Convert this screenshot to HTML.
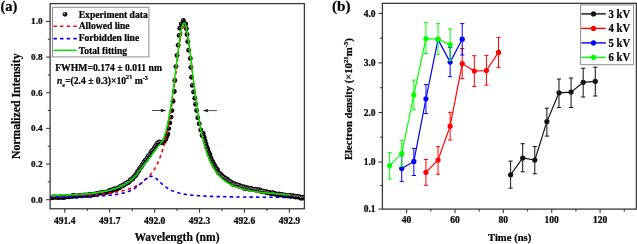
<!DOCTYPE html>
<html><head><meta charset="utf-8"><style>
html,body{margin:0;padding:0;background:#fff;}
svg{display:block;will-change:transform;}
</style></head><body>
<svg width="637" height="244" viewBox="0 0 637 244"><text x="0.4" y="11.2" font-family="'Liberation Serif', serif" font-weight="bold" stroke="#000" stroke-width="0.22" font-size="15.2" textLength="17" lengthAdjust="spacingAndGlyphs">(a)</text>
<rect x="50.1" y="3.6" width="254.29999999999998" height="205.15" fill="none" stroke="#3a3a3a" stroke-width="1.3"/>
<line x1="46.1" y1="199.70" x2="50.1" y2="199.70" stroke="#3a3a3a" stroke-width="1.1"/>
<text x="42.6" y="202.60" font-family="'Liberation Serif', serif" font-weight="bold" stroke="#000" stroke-width="0.22" font-size="9.2" text-anchor="end">0.0</text>
<line x1="47.800000000000004" y1="181.87" x2="50.1" y2="181.87" stroke="#3a3a3a" stroke-width="1.1"/>
<line x1="46.1" y1="164.04" x2="50.1" y2="164.04" stroke="#3a3a3a" stroke-width="1.1"/>
<text x="42.6" y="166.94" font-family="'Liberation Serif', serif" font-weight="bold" stroke="#000" stroke-width="0.22" font-size="9.2" text-anchor="end">0.2</text>
<line x1="47.800000000000004" y1="146.21" x2="50.1" y2="146.21" stroke="#3a3a3a" stroke-width="1.1"/>
<line x1="46.1" y1="128.38" x2="50.1" y2="128.38" stroke="#3a3a3a" stroke-width="1.1"/>
<text x="42.6" y="131.28" font-family="'Liberation Serif', serif" font-weight="bold" stroke="#000" stroke-width="0.22" font-size="9.2" text-anchor="end">0.4</text>
<line x1="47.800000000000004" y1="110.55" x2="50.1" y2="110.55" stroke="#3a3a3a" stroke-width="1.1"/>
<line x1="46.1" y1="92.72" x2="50.1" y2="92.72" stroke="#3a3a3a" stroke-width="1.1"/>
<text x="42.6" y="95.62" font-family="'Liberation Serif', serif" font-weight="bold" stroke="#000" stroke-width="0.22" font-size="9.2" text-anchor="end">0.6</text>
<line x1="47.800000000000004" y1="74.89" x2="50.1" y2="74.89" stroke="#3a3a3a" stroke-width="1.1"/>
<line x1="46.1" y1="57.06" x2="50.1" y2="57.06" stroke="#3a3a3a" stroke-width="1.1"/>
<text x="42.6" y="59.96" font-family="'Liberation Serif', serif" font-weight="bold" stroke="#000" stroke-width="0.22" font-size="9.2" text-anchor="end">0.8</text>
<line x1="47.800000000000004" y1="39.23" x2="50.1" y2="39.23" stroke="#3a3a3a" stroke-width="1.1"/>
<line x1="46.1" y1="21.40" x2="50.1" y2="21.40" stroke="#3a3a3a" stroke-width="1.1"/>
<text x="42.6" y="24.30" font-family="'Liberation Serif', serif" font-weight="bold" stroke="#000" stroke-width="0.22" font-size="9.2" text-anchor="end">1.0</text>
<line x1="64.80" y1="208.75" x2="64.80" y2="212.75" stroke="#3a3a3a" stroke-width="1.1"/>
<text x="64.80" y="223.6" font-family="'Liberation Serif', serif" font-weight="bold" stroke="#000" stroke-width="0.22" font-size="9.5" text-anchor="middle">491.4</text>
<line x1="87.25" y1="208.75" x2="87.25" y2="211.05" stroke="#3a3a3a" stroke-width="1.1"/>
<line x1="109.71" y1="208.75" x2="109.71" y2="212.75" stroke="#3a3a3a" stroke-width="1.1"/>
<text x="109.71" y="223.6" font-family="'Liberation Serif', serif" font-weight="bold" stroke="#000" stroke-width="0.22" font-size="9.5" text-anchor="middle">491.7</text>
<line x1="132.16" y1="208.75" x2="132.16" y2="211.05" stroke="#3a3a3a" stroke-width="1.1"/>
<line x1="154.62" y1="208.75" x2="154.62" y2="212.75" stroke="#3a3a3a" stroke-width="1.1"/>
<text x="154.62" y="223.6" font-family="'Liberation Serif', serif" font-weight="bold" stroke="#000" stroke-width="0.22" font-size="9.5" text-anchor="middle">492.0</text>
<line x1="177.07" y1="208.75" x2="177.07" y2="211.05" stroke="#3a3a3a" stroke-width="1.1"/>
<line x1="199.53" y1="208.75" x2="199.53" y2="212.75" stroke="#3a3a3a" stroke-width="1.1"/>
<text x="199.53" y="223.6" font-family="'Liberation Serif', serif" font-weight="bold" stroke="#000" stroke-width="0.22" font-size="9.5" text-anchor="middle">492.3</text>
<line x1="221.99" y1="208.75" x2="221.99" y2="211.05" stroke="#3a3a3a" stroke-width="1.1"/>
<line x1="244.44" y1="208.75" x2="244.44" y2="212.75" stroke="#3a3a3a" stroke-width="1.1"/>
<text x="244.44" y="223.6" font-family="'Liberation Serif', serif" font-weight="bold" stroke="#000" stroke-width="0.22" font-size="9.5" text-anchor="middle">492.6</text>
<line x1="266.90" y1="208.75" x2="266.90" y2="211.05" stroke="#3a3a3a" stroke-width="1.1"/>
<line x1="289.35" y1="208.75" x2="289.35" y2="212.75" stroke="#3a3a3a" stroke-width="1.1"/>
<text x="289.35" y="223.6" font-family="'Liberation Serif', serif" font-weight="bold" stroke="#000" stroke-width="0.22" font-size="9.5" text-anchor="middle">492.9</text>
<text x="134.4" y="241" font-family="'Liberation Serif', serif" font-weight="bold" stroke="#000" stroke-width="0.22" font-size="11.6" textLength="85.1" lengthAdjust="spacingAndGlyphs">Wavelength (nm)</text>
<text transform="translate(19.9,159) rotate(-90)" x="0" y="0" font-family="'Liberation Serif', serif" font-weight="bold" stroke="#000" stroke-width="0.22" font-size="11.7" textLength="105.6" lengthAdjust="spacingAndGlyphs">Normalized Intensity</text>
<clipPath id="ca"><rect x="50.800000000000004" y="4.3" width="252.89999999999998" height="203.75"/></clipPath>
<g clip-path="url(#ca)">
<g>
<circle cx="47.30" cy="197.75" r="2.45" fill="#050505"/>
<circle cx="48.25" cy="197.42" r="2.45" fill="#050505"/>
<circle cx="49.20" cy="197.69" r="2.45" fill="#050505"/>
<circle cx="50.15" cy="197.70" r="2.45" fill="#050505"/>
<circle cx="51.10" cy="197.92" r="2.45" fill="#050505"/>
<circle cx="52.05" cy="197.60" r="2.45" fill="#050505"/>
<circle cx="53.00" cy="197.05" r="2.45" fill="#050505"/>
<circle cx="53.95" cy="197.28" r="2.45" fill="#050505"/>
<circle cx="54.90" cy="197.00" r="2.45" fill="#050505"/>
<circle cx="55.85" cy="197.27" r="2.45" fill="#050505"/>
<circle cx="56.80" cy="197.17" r="2.45" fill="#050505"/>
<circle cx="57.75" cy="197.20" r="2.45" fill="#050505"/>
<circle cx="58.70" cy="197.87" r="2.45" fill="#050505"/>
<circle cx="59.65" cy="196.83" r="2.45" fill="#050505"/>
<circle cx="60.60" cy="196.91" r="2.45" fill="#050505"/>
<circle cx="61.55" cy="196.86" r="2.45" fill="#050505"/>
<circle cx="62.50" cy="197.66" r="2.45" fill="#050505"/>
<circle cx="63.45" cy="197.62" r="2.45" fill="#050505"/>
<circle cx="64.40" cy="197.22" r="2.45" fill="#050505"/>
<circle cx="65.35" cy="196.99" r="2.45" fill="#050505"/>
<circle cx="66.30" cy="196.62" r="2.45" fill="#050505"/>
<circle cx="67.25" cy="196.69" r="2.45" fill="#050505"/>
<circle cx="68.20" cy="196.39" r="2.45" fill="#050505"/>
<circle cx="69.15" cy="196.78" r="2.45" fill="#050505"/>
<circle cx="70.10" cy="196.34" r="2.45" fill="#050505"/>
<circle cx="71.05" cy="196.23" r="2.45" fill="#050505"/>
<circle cx="72.00" cy="196.57" r="2.45" fill="#050505"/>
<circle cx="72.95" cy="195.57" r="2.45" fill="#050505"/>
<circle cx="73.90" cy="195.95" r="2.45" fill="#050505"/>
<circle cx="74.85" cy="195.63" r="2.45" fill="#050505"/>
<circle cx="75.80" cy="196.27" r="2.45" fill="#050505"/>
<circle cx="76.75" cy="196.25" r="2.45" fill="#050505"/>
<circle cx="77.70" cy="196.02" r="2.45" fill="#050505"/>
<circle cx="78.65" cy="195.86" r="2.45" fill="#050505"/>
<circle cx="79.60" cy="195.49" r="2.45" fill="#050505"/>
<circle cx="80.55" cy="195.57" r="2.45" fill="#050505"/>
<circle cx="81.50" cy="195.77" r="2.45" fill="#050505"/>
<circle cx="82.45" cy="195.89" r="2.45" fill="#050505"/>
<circle cx="83.40" cy="195.64" r="2.45" fill="#050505"/>
<circle cx="84.35" cy="194.87" r="2.45" fill="#050505"/>
<circle cx="85.30" cy="195.58" r="2.45" fill="#050505"/>
<circle cx="86.25" cy="195.08" r="2.45" fill="#050505"/>
<circle cx="87.20" cy="194.91" r="2.45" fill="#050505"/>
<circle cx="88.15" cy="195.57" r="2.45" fill="#050505"/>
<circle cx="89.10" cy="194.87" r="2.45" fill="#050505"/>
<circle cx="90.05" cy="194.27" r="2.45" fill="#050505"/>
<circle cx="91.00" cy="195.46" r="2.45" fill="#050505"/>
<circle cx="91.95" cy="194.69" r="2.45" fill="#050505"/>
<circle cx="92.90" cy="194.49" r="2.45" fill="#050505"/>
<circle cx="93.85" cy="194.65" r="2.45" fill="#050505"/>
<circle cx="94.80" cy="194.01" r="2.45" fill="#050505"/>
<circle cx="95.75" cy="194.09" r="2.45" fill="#050505"/>
<circle cx="96.70" cy="194.51" r="2.45" fill="#050505"/>
<circle cx="97.65" cy="193.46" r="2.45" fill="#050505"/>
<circle cx="98.60" cy="193.36" r="2.45" fill="#050505"/>
<circle cx="99.55" cy="193.09" r="2.45" fill="#050505"/>
<circle cx="100.50" cy="192.72" r="2.45" fill="#050505"/>
<circle cx="101.45" cy="192.95" r="2.45" fill="#050505"/>
<circle cx="102.40" cy="192.84" r="2.45" fill="#050505"/>
<circle cx="103.35" cy="193.18" r="2.45" fill="#050505"/>
<circle cx="104.30" cy="192.19" r="2.45" fill="#050505"/>
<circle cx="105.25" cy="192.43" r="2.45" fill="#050505"/>
<circle cx="106.20" cy="192.11" r="2.45" fill="#050505"/>
<circle cx="107.15" cy="192.17" r="2.45" fill="#050505"/>
<circle cx="108.10" cy="191.77" r="2.45" fill="#050505"/>
<circle cx="109.05" cy="191.32" r="2.45" fill="#050505"/>
<circle cx="110.00" cy="190.32" r="2.45" fill="#050505"/>
<circle cx="110.95" cy="191.32" r="2.45" fill="#050505"/>
<circle cx="111.90" cy="190.78" r="2.45" fill="#050505"/>
<circle cx="112.85" cy="189.79" r="2.45" fill="#050505"/>
<circle cx="113.80" cy="188.98" r="2.45" fill="#050505"/>
<circle cx="114.75" cy="188.97" r="2.45" fill="#050505"/>
<circle cx="115.70" cy="189.59" r="2.45" fill="#050505"/>
<circle cx="116.65" cy="189.46" r="2.45" fill="#050505"/>
<circle cx="117.60" cy="187.95" r="2.45" fill="#050505"/>
<circle cx="118.55" cy="187.99" r="2.45" fill="#050505"/>
<circle cx="119.50" cy="187.73" r="2.45" fill="#050505"/>
<circle cx="120.45" cy="186.48" r="2.45" fill="#050505"/>
<circle cx="121.40" cy="185.97" r="2.45" fill="#050505"/>
<circle cx="122.35" cy="185.86" r="2.45" fill="#050505"/>
<circle cx="123.30" cy="185.31" r="2.45" fill="#050505"/>
<circle cx="124.25" cy="184.70" r="2.45" fill="#050505"/>
<circle cx="125.20" cy="183.67" r="2.45" fill="#050505"/>
<circle cx="126.15" cy="183.44" r="2.45" fill="#050505"/>
<circle cx="127.10" cy="182.84" r="2.45" fill="#050505"/>
<circle cx="128.05" cy="182.15" r="2.45" fill="#050505"/>
<circle cx="129.00" cy="182.25" r="2.45" fill="#050505"/>
<circle cx="129.95" cy="180.35" r="2.45" fill="#050505"/>
<circle cx="130.90" cy="179.63" r="2.45" fill="#050505"/>
<circle cx="131.85" cy="178.88" r="2.45" fill="#050505"/>
<circle cx="132.80" cy="178.90" r="2.45" fill="#050505"/>
<circle cx="133.75" cy="177.35" r="2.45" fill="#050505"/>
<circle cx="134.70" cy="175.70" r="2.45" fill="#050505"/>
<circle cx="135.65" cy="175.58" r="2.45" fill="#050505"/>
<circle cx="136.60" cy="173.64" r="2.45" fill="#050505"/>
<circle cx="137.55" cy="171.78" r="2.45" fill="#050505"/>
<circle cx="138.50" cy="171.27" r="2.45" fill="#050505"/>
<circle cx="139.45" cy="168.71" r="2.45" fill="#050505"/>
<circle cx="140.40" cy="167.77" r="2.45" fill="#050505"/>
<circle cx="141.35" cy="166.66" r="2.45" fill="#050505"/>
<circle cx="142.30" cy="165.06" r="2.45" fill="#050505"/>
<circle cx="143.25" cy="163.51" r="2.45" fill="#050505"/>
<circle cx="144.20" cy="162.31" r="2.45" fill="#050505"/>
<circle cx="145.15" cy="160.54" r="2.45" fill="#050505"/>
<circle cx="146.10" cy="159.89" r="2.45" fill="#050505"/>
<circle cx="147.05" cy="158.42" r="2.45" fill="#050505"/>
<circle cx="148.00" cy="156.50" r="2.45" fill="#050505"/>
<circle cx="148.95" cy="155.61" r="2.45" fill="#050505"/>
<circle cx="149.90" cy="154.71" r="2.45" fill="#050505"/>
<circle cx="150.85" cy="152.68" r="2.45" fill="#050505"/>
<circle cx="151.80" cy="151.11" r="2.45" fill="#050505"/>
<circle cx="152.75" cy="150.43" r="2.45" fill="#050505"/>
<circle cx="153.70" cy="149.34" r="2.45" fill="#050505"/>
<circle cx="154.65" cy="147.50" r="2.45" fill="#050505"/>
<circle cx="155.60" cy="146.17" r="2.45" fill="#050505"/>
<circle cx="156.55" cy="144.86" r="2.45" fill="#050505"/>
<circle cx="157.50" cy="143.02" r="2.45" fill="#050505"/>
<circle cx="158.45" cy="143.18" r="2.45" fill="#050505"/>
<circle cx="159.40" cy="142.04" r="2.45" fill="#050505"/>
<circle cx="160.35" cy="142.45" r="2.45" fill="#050505"/>
<circle cx="161.30" cy="142.61" r="2.45" fill="#050505"/>
<circle cx="162.25" cy="142.69" r="2.45" fill="#050505"/>
<circle cx="163.20" cy="142.34" r="2.45" fill="#050505"/>
<circle cx="164.15" cy="141.53" r="2.45" fill="#050505"/>
<circle cx="165.10" cy="140.31" r="2.45" fill="#050505"/>
<circle cx="166.05" cy="138.46" r="2.45" fill="#050505"/>
<circle cx="167.00" cy="135.84" r="2.45" fill="#050505"/>
<circle cx="203.20" cy="133.52" r="2.45" fill="#050505"/>
<circle cx="204.15" cy="137.29" r="2.45" fill="#050505"/>
<circle cx="205.10" cy="140.75" r="2.45" fill="#050505"/>
<circle cx="206.05" cy="144.00" r="2.45" fill="#050505"/>
<circle cx="207.00" cy="147.27" r="2.45" fill="#050505"/>
<circle cx="207.95" cy="149.96" r="2.45" fill="#050505"/>
<circle cx="208.90" cy="152.72" r="2.45" fill="#050505"/>
<circle cx="209.85" cy="154.61" r="2.45" fill="#050505"/>
<circle cx="210.80" cy="157.64" r="2.45" fill="#050505"/>
<circle cx="211.75" cy="160.14" r="2.45" fill="#050505"/>
<circle cx="212.70" cy="162.18" r="2.45" fill="#050505"/>
<circle cx="213.65" cy="163.98" r="2.45" fill="#050505"/>
<circle cx="214.60" cy="165.42" r="2.45" fill="#050505"/>
<circle cx="215.55" cy="167.59" r="2.45" fill="#050505"/>
<circle cx="216.50" cy="168.85" r="2.45" fill="#050505"/>
<circle cx="217.45" cy="169.70" r="2.45" fill="#050505"/>
<circle cx="218.40" cy="172.72" r="2.45" fill="#050505"/>
<circle cx="219.35" cy="173.34" r="2.45" fill="#050505"/>
<circle cx="220.30" cy="173.89" r="2.45" fill="#050505"/>
<circle cx="221.25" cy="174.84" r="2.45" fill="#050505"/>
<circle cx="222.20" cy="175.86" r="2.45" fill="#050505"/>
<circle cx="223.15" cy="177.01" r="2.45" fill="#050505"/>
<circle cx="224.10" cy="177.41" r="2.45" fill="#050505"/>
<circle cx="225.05" cy="178.33" r="2.45" fill="#050505"/>
<circle cx="226.00" cy="179.37" r="2.45" fill="#050505"/>
<circle cx="226.95" cy="178.89" r="2.45" fill="#050505"/>
<circle cx="227.90" cy="180.34" r="2.45" fill="#050505"/>
<circle cx="228.85" cy="181.30" r="2.45" fill="#050505"/>
<circle cx="229.80" cy="181.69" r="2.45" fill="#050505"/>
<circle cx="230.75" cy="182.29" r="2.45" fill="#050505"/>
<circle cx="231.70" cy="182.74" r="2.45" fill="#050505"/>
<circle cx="232.65" cy="184.27" r="2.45" fill="#050505"/>
<circle cx="233.60" cy="183.85" r="2.45" fill="#050505"/>
<circle cx="234.55" cy="183.70" r="2.45" fill="#050505"/>
<circle cx="235.50" cy="184.96" r="2.45" fill="#050505"/>
<circle cx="236.45" cy="184.92" r="2.45" fill="#050505"/>
<circle cx="237.40" cy="184.88" r="2.45" fill="#050505"/>
<circle cx="238.35" cy="185.27" r="2.45" fill="#050505"/>
<circle cx="239.30" cy="185.35" r="2.45" fill="#050505"/>
<circle cx="240.25" cy="186.92" r="2.45" fill="#050505"/>
<circle cx="241.20" cy="186.69" r="2.45" fill="#050505"/>
<circle cx="242.15" cy="186.97" r="2.45" fill="#050505"/>
<circle cx="243.10" cy="186.86" r="2.45" fill="#050505"/>
<circle cx="244.05" cy="186.94" r="2.45" fill="#050505"/>
<circle cx="245.00" cy="188.68" r="2.45" fill="#050505"/>
<circle cx="245.95" cy="187.44" r="2.45" fill="#050505"/>
<circle cx="246.90" cy="188.67" r="2.45" fill="#050505"/>
<circle cx="247.85" cy="188.06" r="2.45" fill="#050505"/>
<circle cx="248.80" cy="189.13" r="2.45" fill="#050505"/>
<circle cx="249.75" cy="188.68" r="2.45" fill="#050505"/>
<circle cx="250.70" cy="188.49" r="2.45" fill="#050505"/>
<circle cx="251.65" cy="189.21" r="2.45" fill="#050505"/>
<circle cx="252.60" cy="189.28" r="2.45" fill="#050505"/>
<circle cx="253.55" cy="189.23" r="2.45" fill="#050505"/>
<circle cx="254.50" cy="189.69" r="2.45" fill="#050505"/>
<circle cx="255.45" cy="189.97" r="2.45" fill="#050505"/>
<circle cx="256.40" cy="189.52" r="2.45" fill="#050505"/>
<circle cx="257.35" cy="189.90" r="2.45" fill="#050505"/>
<circle cx="258.30" cy="190.61" r="2.45" fill="#050505"/>
<circle cx="259.25" cy="189.60" r="2.45" fill="#050505"/>
<circle cx="260.20" cy="191.31" r="2.45" fill="#050505"/>
<circle cx="261.15" cy="190.68" r="2.45" fill="#050505"/>
<circle cx="262.10" cy="191.32" r="2.45" fill="#050505"/>
<circle cx="263.05" cy="191.33" r="2.45" fill="#050505"/>
<circle cx="264.00" cy="191.28" r="2.45" fill="#050505"/>
<circle cx="264.95" cy="191.64" r="2.45" fill="#050505"/>
<circle cx="265.90" cy="191.65" r="2.45" fill="#050505"/>
<circle cx="266.85" cy="192.68" r="2.45" fill="#050505"/>
<circle cx="267.80" cy="192.87" r="2.45" fill="#050505"/>
<circle cx="268.75" cy="192.24" r="2.45" fill="#050505"/>
<circle cx="269.70" cy="193.06" r="2.45" fill="#050505"/>
<circle cx="270.65" cy="193.30" r="2.45" fill="#050505"/>
<circle cx="271.60" cy="193.68" r="2.45" fill="#050505"/>
<circle cx="272.55" cy="192.82" r="2.45" fill="#050505"/>
<circle cx="273.50" cy="193.24" r="2.45" fill="#050505"/>
<circle cx="274.45" cy="193.16" r="2.45" fill="#050505"/>
<circle cx="275.40" cy="194.31" r="2.45" fill="#050505"/>
<circle cx="276.35" cy="194.14" r="2.45" fill="#050505"/>
<circle cx="277.30" cy="194.77" r="2.45" fill="#050505"/>
<circle cx="278.25" cy="194.20" r="2.45" fill="#050505"/>
<circle cx="279.20" cy="194.05" r="2.45" fill="#050505"/>
<circle cx="280.15" cy="195.17" r="2.45" fill="#050505"/>
<circle cx="281.10" cy="194.35" r="2.45" fill="#050505"/>
<circle cx="282.05" cy="194.71" r="2.45" fill="#050505"/>
<circle cx="283.00" cy="195.29" r="2.45" fill="#050505"/>
<circle cx="283.95" cy="196.12" r="2.45" fill="#050505"/>
<circle cx="284.90" cy="194.92" r="2.45" fill="#050505"/>
<circle cx="285.85" cy="195.62" r="2.45" fill="#050505"/>
<circle cx="286.80" cy="195.94" r="2.45" fill="#050505"/>
<circle cx="287.75" cy="195.66" r="2.45" fill="#050505"/>
<circle cx="288.70" cy="195.77" r="2.45" fill="#050505"/>
<circle cx="289.65" cy="195.45" r="2.45" fill="#050505"/>
<circle cx="290.60" cy="196.56" r="2.45" fill="#050505"/>
<circle cx="291.55" cy="195.83" r="2.45" fill="#050505"/>
<circle cx="292.50" cy="195.82" r="2.45" fill="#050505"/>
<circle cx="293.45" cy="195.96" r="2.45" fill="#050505"/>
<circle cx="294.40" cy="196.73" r="2.45" fill="#050505"/>
<circle cx="295.35" cy="197.07" r="2.45" fill="#050505"/>
<circle cx="296.30" cy="196.50" r="2.45" fill="#050505"/>
<circle cx="297.25" cy="196.96" r="2.45" fill="#050505"/>
<circle cx="298.20" cy="197.05" r="2.45" fill="#050505"/>
<circle cx="299.15" cy="196.62" r="2.45" fill="#050505"/>
<circle cx="300.10" cy="197.34" r="2.45" fill="#050505"/>
<circle cx="301.05" cy="198.19" r="2.45" fill="#050505"/>
<circle cx="302.00" cy="197.49" r="2.45" fill="#050505"/>
<circle cx="302.95" cy="198.11" r="2.45" fill="#050505"/>
<circle cx="303.90" cy="197.11" r="2.45" fill="#050505"/>
<circle cx="304.85" cy="197.35" r="2.45" fill="#050505"/>
<circle cx="305.80" cy="197.76" r="2.45" fill="#050505"/>
<circle cx="306.75" cy="197.57" r="2.45" fill="#050505"/>
<circle cx="183.40" cy="20.50" r="2.45" fill="#050505"/>
<circle cx="181.20" cy="23.90" r="2.45" fill="#050505"/>
<circle cx="179.90" cy="28.20" r="2.45" fill="#050505"/>
<circle cx="179.20" cy="35.40" r="2.45" fill="#050505"/>
<circle cx="178.20" cy="45.30" r="2.45" fill="#050505"/>
<circle cx="177.00" cy="55.50" r="2.45" fill="#050505"/>
<circle cx="175.90" cy="66.60" r="2.45" fill="#050505"/>
<circle cx="174.80" cy="80.50" r="2.45" fill="#050505"/>
<circle cx="174.30" cy="91.50" r="2.45" fill="#050505"/>
<circle cx="173.10" cy="101.20" r="2.45" fill="#050505"/>
<circle cx="171.90" cy="110.60" r="2.45" fill="#050505"/>
<circle cx="171.10" cy="117.10" r="2.45" fill="#050505"/>
<circle cx="169.80" cy="122.90" r="2.45" fill="#050505"/>
<circle cx="168.70" cy="128.60" r="2.45" fill="#050505"/>
<circle cx="167.80" cy="134.00" r="2.45" fill="#050505"/>
<circle cx="185.70" cy="24.00" r="2.45" fill="#050505"/>
<circle cx="186.40" cy="28.80" r="2.45" fill="#050505"/>
<circle cx="187.00" cy="34.50" r="2.45" fill="#050505"/>
<circle cx="187.70" cy="41.60" r="2.45" fill="#050505"/>
<circle cx="188.70" cy="50.20" r="2.45" fill="#050505"/>
<circle cx="190.30" cy="58.40" r="2.45" fill="#050505"/>
<circle cx="190.90" cy="67.40" r="2.45" fill="#050505"/>
<circle cx="191.60" cy="77.20" r="2.45" fill="#050505"/>
<circle cx="192.30" cy="85.40" r="2.45" fill="#050505"/>
<circle cx="193.60" cy="92.00" r="2.45" fill="#050505"/>
<circle cx="194.80" cy="98.20" r="2.45" fill="#050505"/>
<circle cx="195.60" cy="104.30" r="2.45" fill="#050505"/>
<circle cx="196.60" cy="110.50" r="2.45" fill="#050505"/>
<circle cx="197.80" cy="117.70" r="2.45" fill="#050505"/>
<circle cx="199.20" cy="123.80" r="2.45" fill="#050505"/>
<circle cx="200.70" cy="130.00" r="2.45" fill="#050505"/>
<circle cx="202.10" cy="135.60" r="2.45" fill="#050505"/>
</g><g fill="#9a9a9a">
<circle cx="46.70" cy="196.95" r="0.6"/>
<circle cx="47.65" cy="196.62" r="0.6"/>
<circle cx="48.60" cy="196.89" r="0.6"/>
<circle cx="49.55" cy="196.90" r="0.6"/>
<circle cx="50.50" cy="197.12" r="0.6"/>
<circle cx="51.45" cy="196.80" r="0.6"/>
<circle cx="52.40" cy="196.25" r="0.6"/>
<circle cx="53.35" cy="196.48" r="0.6"/>
<circle cx="54.30" cy="196.20" r="0.6"/>
<circle cx="55.25" cy="196.47" r="0.6"/>
<circle cx="56.20" cy="196.37" r="0.6"/>
<circle cx="57.15" cy="196.40" r="0.6"/>
<circle cx="58.10" cy="197.07" r="0.6"/>
<circle cx="59.05" cy="196.03" r="0.6"/>
<circle cx="60.00" cy="196.11" r="0.6"/>
<circle cx="60.95" cy="196.06" r="0.6"/>
<circle cx="61.90" cy="196.86" r="0.6"/>
<circle cx="62.85" cy="196.82" r="0.6"/>
<circle cx="63.80" cy="196.42" r="0.6"/>
<circle cx="64.75" cy="196.19" r="0.6"/>
<circle cx="65.70" cy="195.82" r="0.6"/>
<circle cx="66.65" cy="195.89" r="0.6"/>
<circle cx="67.60" cy="195.59" r="0.6"/>
<circle cx="68.55" cy="195.98" r="0.6"/>
<circle cx="69.50" cy="195.54" r="0.6"/>
<circle cx="70.45" cy="195.43" r="0.6"/>
<circle cx="71.40" cy="195.77" r="0.6"/>
<circle cx="72.35" cy="194.77" r="0.6"/>
<circle cx="73.30" cy="195.15" r="0.6"/>
<circle cx="74.25" cy="194.83" r="0.6"/>
<circle cx="75.20" cy="195.47" r="0.6"/>
<circle cx="76.15" cy="195.45" r="0.6"/>
<circle cx="77.10" cy="195.22" r="0.6"/>
<circle cx="78.05" cy="195.06" r="0.6"/>
<circle cx="79.00" cy="194.69" r="0.6"/>
<circle cx="79.95" cy="194.77" r="0.6"/>
<circle cx="80.90" cy="194.97" r="0.6"/>
<circle cx="81.85" cy="195.09" r="0.6"/>
<circle cx="82.80" cy="194.84" r="0.6"/>
<circle cx="83.75" cy="194.07" r="0.6"/>
<circle cx="84.70" cy="194.78" r="0.6"/>
<circle cx="85.65" cy="194.28" r="0.6"/>
<circle cx="86.60" cy="194.11" r="0.6"/>
<circle cx="87.55" cy="194.77" r="0.6"/>
<circle cx="88.50" cy="194.07" r="0.6"/>
<circle cx="89.45" cy="193.47" r="0.6"/>
<circle cx="90.40" cy="194.66" r="0.6"/>
<circle cx="91.35" cy="193.89" r="0.6"/>
<circle cx="92.30" cy="193.69" r="0.6"/>
<circle cx="93.25" cy="193.85" r="0.6"/>
<circle cx="94.20" cy="193.21" r="0.6"/>
<circle cx="95.15" cy="193.29" r="0.6"/>
<circle cx="96.10" cy="193.71" r="0.6"/>
<circle cx="97.05" cy="192.66" r="0.6"/>
<circle cx="98.00" cy="192.56" r="0.6"/>
<circle cx="98.95" cy="192.29" r="0.6"/>
<circle cx="99.90" cy="191.92" r="0.6"/>
<circle cx="100.85" cy="192.15" r="0.6"/>
<circle cx="101.80" cy="192.04" r="0.6"/>
<circle cx="102.75" cy="192.38" r="0.6"/>
<circle cx="103.70" cy="191.39" r="0.6"/>
<circle cx="104.65" cy="191.63" r="0.6"/>
<circle cx="105.60" cy="191.31" r="0.6"/>
<circle cx="106.55" cy="191.37" r="0.6"/>
<circle cx="107.50" cy="190.97" r="0.6"/>
<circle cx="108.45" cy="190.52" r="0.6"/>
<circle cx="109.40" cy="189.52" r="0.6"/>
<circle cx="110.35" cy="190.52" r="0.6"/>
<circle cx="111.30" cy="189.98" r="0.6"/>
<circle cx="112.25" cy="188.99" r="0.6"/>
<circle cx="113.20" cy="188.18" r="0.6"/>
<circle cx="114.15" cy="188.17" r="0.6"/>
<circle cx="115.10" cy="188.79" r="0.6"/>
<circle cx="116.05" cy="188.66" r="0.6"/>
<circle cx="117.00" cy="187.15" r="0.6"/>
<circle cx="117.95" cy="187.19" r="0.6"/>
<circle cx="118.90" cy="186.93" r="0.6"/>
<circle cx="119.85" cy="185.68" r="0.6"/>
<circle cx="120.80" cy="185.17" r="0.6"/>
<circle cx="121.75" cy="185.06" r="0.6"/>
<circle cx="122.70" cy="184.51" r="0.6"/>
<circle cx="123.65" cy="183.90" r="0.6"/>
<circle cx="124.60" cy="182.87" r="0.6"/>
<circle cx="125.55" cy="182.64" r="0.6"/>
<circle cx="126.50" cy="182.04" r="0.6"/>
<circle cx="127.45" cy="181.35" r="0.6"/>
<circle cx="128.40" cy="181.45" r="0.6"/>
<circle cx="129.35" cy="179.55" r="0.6"/>
<circle cx="130.30" cy="178.83" r="0.6"/>
<circle cx="131.25" cy="178.08" r="0.6"/>
<circle cx="132.20" cy="178.10" r="0.6"/>
<circle cx="133.15" cy="176.55" r="0.6"/>
<circle cx="134.10" cy="174.90" r="0.6"/>
<circle cx="135.05" cy="174.78" r="0.6"/>
<circle cx="136.00" cy="172.84" r="0.6"/>
<circle cx="136.95" cy="170.98" r="0.6"/>
<circle cx="137.90" cy="170.47" r="0.6"/>
<circle cx="138.85" cy="167.91" r="0.6"/>
<circle cx="139.80" cy="166.97" r="0.6"/>
<circle cx="140.75" cy="165.86" r="0.6"/>
<circle cx="141.70" cy="164.26" r="0.6"/>
<circle cx="142.65" cy="162.71" r="0.6"/>
<circle cx="143.60" cy="161.51" r="0.6"/>
<circle cx="144.55" cy="159.74" r="0.6"/>
<circle cx="145.50" cy="159.09" r="0.6"/>
<circle cx="146.45" cy="157.62" r="0.6"/>
<circle cx="147.40" cy="155.70" r="0.6"/>
<circle cx="148.35" cy="154.81" r="0.6"/>
<circle cx="149.30" cy="153.91" r="0.6"/>
<circle cx="150.25" cy="151.88" r="0.6"/>
<circle cx="151.20" cy="150.31" r="0.6"/>
<circle cx="152.15" cy="149.63" r="0.6"/>
<circle cx="153.10" cy="148.54" r="0.6"/>
<circle cx="154.05" cy="146.70" r="0.6"/>
<circle cx="155.00" cy="145.37" r="0.6"/>
<circle cx="155.95" cy="144.06" r="0.6"/>
<circle cx="156.90" cy="142.22" r="0.6"/>
<circle cx="157.85" cy="142.38" r="0.6"/>
<circle cx="158.80" cy="141.24" r="0.6"/>
<circle cx="159.75" cy="141.65" r="0.6"/>
<circle cx="160.70" cy="141.81" r="0.6"/>
<circle cx="161.65" cy="141.89" r="0.6"/>
<circle cx="162.60" cy="141.54" r="0.6"/>
<circle cx="163.55" cy="140.73" r="0.6"/>
<circle cx="164.50" cy="139.51" r="0.6"/>
<circle cx="165.45" cy="137.66" r="0.6"/>
<circle cx="166.40" cy="135.04" r="0.6"/>
<circle cx="202.60" cy="132.72" r="0.6"/>
<circle cx="203.55" cy="136.49" r="0.6"/>
<circle cx="204.50" cy="139.95" r="0.6"/>
<circle cx="205.45" cy="143.20" r="0.6"/>
<circle cx="206.40" cy="146.47" r="0.6"/>
<circle cx="207.35" cy="149.16" r="0.6"/>
<circle cx="208.30" cy="151.92" r="0.6"/>
<circle cx="209.25" cy="153.81" r="0.6"/>
<circle cx="210.20" cy="156.84" r="0.6"/>
<circle cx="211.15" cy="159.34" r="0.6"/>
<circle cx="212.10" cy="161.38" r="0.6"/>
<circle cx="213.05" cy="163.18" r="0.6"/>
<circle cx="214.00" cy="164.62" r="0.6"/>
<circle cx="214.95" cy="166.79" r="0.6"/>
<circle cx="215.90" cy="168.05" r="0.6"/>
<circle cx="216.85" cy="168.90" r="0.6"/>
<circle cx="217.80" cy="171.92" r="0.6"/>
<circle cx="218.75" cy="172.54" r="0.6"/>
<circle cx="219.70" cy="173.09" r="0.6"/>
<circle cx="220.65" cy="174.04" r="0.6"/>
<circle cx="221.60" cy="175.06" r="0.6"/>
<circle cx="222.55" cy="176.21" r="0.6"/>
<circle cx="223.50" cy="176.61" r="0.6"/>
<circle cx="224.45" cy="177.53" r="0.6"/>
<circle cx="225.40" cy="178.57" r="0.6"/>
<circle cx="226.35" cy="178.09" r="0.6"/>
<circle cx="227.30" cy="179.54" r="0.6"/>
<circle cx="228.25" cy="180.50" r="0.6"/>
<circle cx="229.20" cy="180.89" r="0.6"/>
<circle cx="230.15" cy="181.49" r="0.6"/>
<circle cx="231.10" cy="181.94" r="0.6"/>
<circle cx="232.05" cy="183.47" r="0.6"/>
<circle cx="233.00" cy="183.05" r="0.6"/>
<circle cx="233.95" cy="182.90" r="0.6"/>
<circle cx="234.90" cy="184.16" r="0.6"/>
<circle cx="235.85" cy="184.12" r="0.6"/>
<circle cx="236.80" cy="184.08" r="0.6"/>
<circle cx="237.75" cy="184.47" r="0.6"/>
<circle cx="238.70" cy="184.55" r="0.6"/>
<circle cx="239.65" cy="186.12" r="0.6"/>
<circle cx="240.60" cy="185.89" r="0.6"/>
<circle cx="241.55" cy="186.17" r="0.6"/>
<circle cx="242.50" cy="186.06" r="0.6"/>
<circle cx="243.45" cy="186.14" r="0.6"/>
<circle cx="244.40" cy="187.88" r="0.6"/>
<circle cx="245.35" cy="186.64" r="0.6"/>
<circle cx="246.30" cy="187.87" r="0.6"/>
<circle cx="247.25" cy="187.26" r="0.6"/>
<circle cx="248.20" cy="188.33" r="0.6"/>
<circle cx="249.15" cy="187.88" r="0.6"/>
<circle cx="250.10" cy="187.69" r="0.6"/>
<circle cx="251.05" cy="188.41" r="0.6"/>
<circle cx="252.00" cy="188.48" r="0.6"/>
<circle cx="252.95" cy="188.43" r="0.6"/>
<circle cx="253.90" cy="188.89" r="0.6"/>
<circle cx="254.85" cy="189.17" r="0.6"/>
<circle cx="255.80" cy="188.72" r="0.6"/>
<circle cx="256.75" cy="189.10" r="0.6"/>
<circle cx="257.70" cy="189.81" r="0.6"/>
<circle cx="258.65" cy="188.80" r="0.6"/>
<circle cx="259.60" cy="190.51" r="0.6"/>
<circle cx="260.55" cy="189.88" r="0.6"/>
<circle cx="261.50" cy="190.52" r="0.6"/>
<circle cx="262.45" cy="190.53" r="0.6"/>
<circle cx="263.40" cy="190.48" r="0.6"/>
<circle cx="264.35" cy="190.84" r="0.6"/>
<circle cx="265.30" cy="190.85" r="0.6"/>
<circle cx="266.25" cy="191.88" r="0.6"/>
<circle cx="267.20" cy="192.07" r="0.6"/>
<circle cx="268.15" cy="191.44" r="0.6"/>
<circle cx="269.10" cy="192.26" r="0.6"/>
<circle cx="270.05" cy="192.50" r="0.6"/>
<circle cx="271.00" cy="192.88" r="0.6"/>
<circle cx="271.95" cy="192.02" r="0.6"/>
<circle cx="272.90" cy="192.44" r="0.6"/>
<circle cx="273.85" cy="192.36" r="0.6"/>
<circle cx="274.80" cy="193.51" r="0.6"/>
<circle cx="275.75" cy="193.34" r="0.6"/>
<circle cx="276.70" cy="193.97" r="0.6"/>
<circle cx="277.65" cy="193.40" r="0.6"/>
<circle cx="278.60" cy="193.25" r="0.6"/>
<circle cx="279.55" cy="194.37" r="0.6"/>
<circle cx="280.50" cy="193.55" r="0.6"/>
<circle cx="281.45" cy="193.91" r="0.6"/>
<circle cx="282.40" cy="194.49" r="0.6"/>
<circle cx="283.35" cy="195.32" r="0.6"/>
<circle cx="284.30" cy="194.12" r="0.6"/>
<circle cx="285.25" cy="194.82" r="0.6"/>
<circle cx="286.20" cy="195.14" r="0.6"/>
<circle cx="287.15" cy="194.86" r="0.6"/>
<circle cx="288.10" cy="194.97" r="0.6"/>
<circle cx="289.05" cy="194.65" r="0.6"/>
<circle cx="290.00" cy="195.76" r="0.6"/>
<circle cx="290.95" cy="195.03" r="0.6"/>
<circle cx="291.90" cy="195.02" r="0.6"/>
<circle cx="292.85" cy="195.16" r="0.6"/>
<circle cx="293.80" cy="195.93" r="0.6"/>
<circle cx="294.75" cy="196.27" r="0.6"/>
<circle cx="295.70" cy="195.70" r="0.6"/>
<circle cx="296.65" cy="196.16" r="0.6"/>
<circle cx="297.60" cy="196.25" r="0.6"/>
<circle cx="298.55" cy="195.82" r="0.6"/>
<circle cx="299.50" cy="196.54" r="0.6"/>
<circle cx="300.45" cy="197.39" r="0.6"/>
<circle cx="301.40" cy="196.69" r="0.6"/>
<circle cx="302.35" cy="197.31" r="0.6"/>
<circle cx="303.30" cy="196.31" r="0.6"/>
<circle cx="304.25" cy="196.55" r="0.6"/>
<circle cx="305.20" cy="196.96" r="0.6"/>
<circle cx="306.15" cy="196.77" r="0.6"/>
<circle cx="182.80" cy="19.70" r="0.6"/>
<circle cx="180.60" cy="23.10" r="0.6"/>
<circle cx="179.30" cy="27.40" r="0.6"/>
<circle cx="178.60" cy="34.60" r="0.6"/>
<circle cx="177.60" cy="44.50" r="0.6"/>
<circle cx="176.40" cy="54.70" r="0.6"/>
<circle cx="175.30" cy="65.80" r="0.6"/>
<circle cx="174.20" cy="79.70" r="0.6"/>
<circle cx="173.70" cy="90.70" r="0.6"/>
<circle cx="172.50" cy="100.40" r="0.6"/>
<circle cx="171.30" cy="109.80" r="0.6"/>
<circle cx="170.50" cy="116.30" r="0.6"/>
<circle cx="169.20" cy="122.10" r="0.6"/>
<circle cx="168.10" cy="127.80" r="0.6"/>
<circle cx="167.20" cy="133.20" r="0.6"/>
<circle cx="185.10" cy="23.20" r="0.6"/>
<circle cx="185.80" cy="28.00" r="0.6"/>
<circle cx="186.40" cy="33.70" r="0.6"/>
<circle cx="187.10" cy="40.80" r="0.6"/>
<circle cx="188.10" cy="49.40" r="0.6"/>
<circle cx="189.70" cy="57.60" r="0.6"/>
<circle cx="190.30" cy="66.60" r="0.6"/>
<circle cx="191.00" cy="76.40" r="0.6"/>
<circle cx="191.70" cy="84.60" r="0.6"/>
<circle cx="193.00" cy="91.20" r="0.6"/>
<circle cx="194.20" cy="97.40" r="0.6"/>
<circle cx="195.00" cy="103.50" r="0.6"/>
<circle cx="196.00" cy="109.70" r="0.6"/>
<circle cx="197.20" cy="116.90" r="0.6"/>
<circle cx="198.60" cy="123.00" r="0.6"/>
<circle cx="200.10" cy="129.20" r="0.6"/>
<circle cx="201.50" cy="134.80" r="0.6"/>
</g>
<path d="M49.10,196.93 L49.60,196.91 L50.10,196.90 L50.60,196.89 L51.10,196.88 L51.60,196.86 L52.10,196.85 L52.60,196.84 L53.10,196.82 L53.60,196.81 L54.10,196.79 L54.60,196.78 L55.10,196.77 L55.60,196.75 L56.10,196.74 L56.60,196.72 L57.10,196.71 L57.60,196.69 L58.10,196.68 L58.60,196.66 L59.10,196.65 L59.60,196.63 L60.10,196.61 L60.60,196.60 L61.10,196.58 L61.60,196.57 L62.10,196.55 L62.60,196.53 L63.10,196.51 L63.60,196.50 L64.10,196.48 L64.60,196.46 L65.10,196.44 L65.60,196.43 L66.10,196.41 L66.60,196.39 L67.10,196.37 L67.60,196.35 L68.10,196.33 L68.60,196.31 L69.10,196.29 L69.60,196.27 L70.10,196.25 L70.60,196.23 L71.10,196.21 L71.60,196.19 L72.10,196.17 L72.60,196.14 L73.10,196.12 L73.60,196.10 L74.10,196.08 L74.60,196.05 L75.10,196.03 L75.60,196.01 L76.10,195.98 L76.60,195.96 L77.10,195.93 L77.60,195.91 L78.10,195.88 L78.60,195.86 L79.10,195.83 L79.60,195.81 L80.10,195.78 L80.60,195.75 L81.10,195.72 L81.60,195.70 L82.10,195.67 L82.60,195.64 L83.10,195.61 L83.60,195.58 L84.10,195.55 L84.60,195.52 L85.10,195.49 L85.60,195.46 L86.10,195.43 L86.60,195.39 L87.10,195.36 L87.60,195.33 L88.10,195.29 L88.60,195.26 L89.10,195.22 L89.60,195.19 L90.10,195.15 L90.60,195.12 L91.10,195.08 L91.60,195.04 L92.10,195.00 L92.60,194.96 L93.10,194.93 L93.60,194.88 L94.10,194.84 L94.60,194.80 L95.10,194.76 L95.60,194.72 L96.10,194.67 L96.60,194.63 L97.10,194.58 L97.60,194.54 L98.10,194.49 L98.60,194.44 L99.10,194.40 L99.60,194.35 L100.10,194.30 L100.60,194.25 L101.10,194.20 L101.60,194.14 L102.10,194.09 L102.60,194.04 L103.10,193.98 L103.60,193.92 L104.10,193.87 L104.60,193.81 L105.10,193.75 L105.60,193.69 L106.10,193.63 L106.60,193.56 L107.10,193.50 L107.60,193.43 L108.10,193.37 L108.60,193.30 L109.10,193.23 L109.60,193.16 L110.10,193.09 L110.60,193.02 L111.10,192.94 L111.60,192.86 L112.10,192.79 L112.60,192.71 L113.10,192.63 L113.60,192.54 L114.10,192.46 L114.60,192.37 L115.10,192.29 L115.60,192.20 L116.10,192.11 L116.60,192.01 L117.10,191.92 L117.60,191.82 L118.10,191.72 L118.60,191.62 L119.10,191.52 L119.60,191.41 L120.10,191.30 L120.60,191.19 L121.10,191.08 L121.60,190.96 L122.10,190.84 L122.60,190.72 L123.10,190.60 L123.60,190.47 L124.10,190.34 L124.60,190.21 L125.10,190.07 L125.60,189.93 L126.10,189.79 L126.60,189.64 L127.10,189.49 L127.60,189.34 L128.10,189.18 L128.60,189.02 L129.10,188.85 L129.60,188.68 L130.10,188.51 L130.60,188.33 L131.10,188.15 L131.60,187.96 L132.10,187.77 L132.60,187.57 L133.10,187.36 L133.60,187.15 L134.10,186.94 L134.60,186.72 L135.10,186.49 L135.60,186.26 L136.10,186.02 L136.60,185.77 L137.10,185.52 L137.60,185.26 L138.10,184.99 L138.60,184.71 L139.10,184.42 L139.60,184.13 L140.10,183.83 L140.60,183.51 L141.10,183.19 L141.60,182.86 L142.10,182.52 L142.60,182.17 L143.10,181.80 L143.60,181.42 L144.10,181.04 L144.60,180.63 L145.10,180.22 L145.60,179.79 L146.10,179.35 L146.60,178.89 L147.10,178.42 L147.60,177.93 L148.10,177.42 L148.60,176.89 L149.10,176.35 L149.60,175.78 L150.10,175.20 L150.60,174.59 L151.10,173.96 L151.60,173.31 L152.10,172.63 L152.60,171.93 L153.10,171.20 L153.60,170.44 L154.10,169.66 L154.60,168.84 L155.10,167.98 L155.60,167.10 L156.10,166.18 L156.60,165.22 L157.10,164.22 L157.60,163.18 L158.10,162.09 L158.60,160.96 L159.10,159.78 L159.60,158.56 L160.10,157.27 L160.60,155.94 L161.10,154.54 L161.60,153.09 L162.10,151.56 L162.60,149.98 L163.10,148.32 L163.60,146.58 L164.10,144.77 L164.60,142.88 L165.10,140.91 L165.60,138.84 L166.10,136.69 L166.60,134.44 L167.10,132.09 L167.60,129.64 L168.10,127.08 L168.60,124.41 L169.10,121.63 L169.60,118.74 L170.10,115.73 L170.60,112.60 L171.10,109.36 L171.60,105.99 L172.10,102.51 L172.60,98.92 L173.10,95.22 L173.60,91.42 L174.10,87.53 L174.60,83.56 L175.10,79.51 L175.60,75.42 L176.10,71.29 L176.60,67.15 L177.10,63.03 L177.60,58.95 L178.10,54.95 L178.60,51.06 L179.10,47.33 L179.60,43.78 L180.10,40.46 L180.60,37.41 L181.10,34.67 L181.60,32.28 L182.10,30.27 L182.60,28.67 L183.10,27.51 L183.60,26.81 L184.10,26.57 L184.60,26.81 L185.10,27.51 L185.60,28.67 L186.10,30.22 L186.60,32.03 L187.10,34.24 L187.60,36.79 L188.10,39.67 L188.60,42.83 L189.10,46.23 L189.60,49.82 L190.10,53.58 L190.60,57.46 L191.10,61.42 L191.60,65.44 L192.10,69.48 L192.60,73.52 L193.10,77.54 L193.60,81.51 L194.10,85.45 L194.60,89.42 L195.10,93.28 L195.60,97.05 L196.10,100.70 L196.60,104.24 L197.10,107.66 L197.60,110.96 L198.10,114.14 L198.60,117.20 L199.10,120.14 L199.60,122.95 L200.10,125.66 L200.60,128.25 L201.10,130.74 L201.60,133.12 L202.10,135.41 L202.60,137.60 L203.10,139.70 L203.60,141.71 L204.10,143.63 L204.60,145.47 L205.10,147.24 L205.60,148.93 L206.10,150.55 L206.60,152.10 L207.10,153.58 L207.60,155.00 L208.10,156.37 L208.60,157.67 L209.10,158.93 L209.60,160.13 L210.10,161.28 L210.60,162.38 L211.10,163.44 L211.60,164.45 L212.10,165.43 L212.60,166.36 L213.10,167.25 L213.60,168.11 L214.10,168.94 L214.60,169.73 L215.10,170.49 L215.60,171.22 L216.10,171.92 L216.60,172.59 L217.10,173.24 L217.60,173.87 L218.10,174.47 L218.60,175.05 L219.10,175.61 L219.60,176.15 L220.10,176.67 L220.60,177.17 L221.10,177.65 L221.60,178.12 L222.10,178.57 L222.60,179.01 L223.10,179.43 L223.60,179.83 L224.10,180.22 L224.60,180.60 L225.10,180.97 L225.60,181.33 L226.10,181.67 L226.60,182.00 L227.10,182.32 L227.60,182.63 L228.10,182.94 L228.60,183.23 L229.10,183.51 L229.60,183.79 L230.10,184.06 L230.60,184.31 L231.10,184.57 L231.60,184.81 L232.10,185.05 L232.60,185.28 L233.10,185.50 L233.60,185.72 L234.10,185.93 L234.60,186.14 L235.10,186.34 L235.60,186.54 L236.10,186.73 L236.60,186.92 L237.10,187.10 L237.60,187.28 L238.10,187.45 L238.60,187.62 L239.10,187.79 L239.60,187.95 L240.10,188.11 L240.60,188.27 L241.10,188.42 L241.60,188.56 L242.10,188.71 L242.60,188.85 L243.10,188.99 L243.60,189.12 L244.10,189.25 L244.60,189.38 L245.10,189.50 L245.60,189.63 L246.10,189.75 L246.60,189.86 L247.10,189.98 L247.60,190.09 L248.10,190.20 L248.60,190.30 L249.10,190.41 L249.60,190.51 L250.10,190.61 L250.60,190.71 L251.10,190.80 L251.60,190.90 L252.10,190.99 L252.60,191.08 L253.10,191.16 L253.60,191.25 L254.10,191.33 L254.60,191.42 L255.10,191.50 L255.60,191.58 L256.10,191.65 L256.60,191.73 L257.10,191.80 L257.60,191.88 L258.10,191.95 L258.60,192.02 L259.10,192.09 L259.60,192.15 L260.10,192.22 L260.60,192.28 L261.10,192.35 L261.60,192.41 L262.10,192.47 L262.60,192.53 L263.10,192.59 L263.60,192.65 L264.10,192.71 L264.60,192.76 L265.10,192.82 L265.60,192.87 L266.10,192.92 L266.60,192.97 L267.10,193.03 L267.60,193.08 L268.10,193.13 L268.60,193.17 L269.10,193.22 L269.60,193.27 L270.10,193.31 L270.60,193.36 L271.10,193.40 L271.60,193.45 L272.10,193.49 L272.60,193.53 L273.10,193.57 L273.60,193.61 L274.10,193.66 L274.60,193.69 L275.10,193.73 L275.60,193.77 L276.10,193.81 L276.60,193.85 L277.10,193.88 L277.60,193.92 L278.10,193.95 L278.60,193.99 L279.10,194.02 L279.60,194.06 L280.10,194.09 L280.60,194.12 L281.10,194.16 L281.60,194.19 L282.10,194.22 L282.60,194.25 L283.10,194.28 L283.60,194.31 L284.10,194.34 L284.60,194.37 L285.10,194.40 L285.60,194.42 L286.10,194.45 L286.60,194.48 L287.10,194.51 L287.60,194.53 L288.10,194.56 L288.60,194.59 L289.10,194.61 L289.60,194.64 L290.10,194.66" fill="none" stroke="#ff0000" stroke-width="1.6" stroke-dasharray="3.4 3.2"/>
<path d="M49.10,197.14 L49.60,197.14 L50.10,197.13 L50.60,197.13 L51.10,197.12 L51.60,197.12 L52.10,197.12 L52.60,197.11 L53.10,197.11 L53.60,197.10 L54.10,197.10 L54.60,197.09 L55.10,197.09 L55.60,197.08 L56.10,197.08 L56.60,197.07 L57.10,197.07 L57.60,197.06 L58.10,197.06 L58.60,197.05 L59.10,197.05 L59.60,197.04 L60.10,197.04 L60.60,197.03 L61.10,197.02 L61.60,197.02 L62.10,197.01 L62.60,197.01 L63.10,197.00 L63.60,196.99 L64.10,196.99 L64.60,196.98 L65.10,196.98 L65.60,196.97 L66.10,196.96 L66.60,196.95 L67.10,196.95 L67.60,196.94 L68.10,196.93 L68.60,196.93 L69.10,196.92 L69.60,196.91 L70.10,196.90 L70.60,196.90 L71.10,196.89 L71.60,196.88 L72.10,196.87 L72.60,196.86 L73.10,196.85 L73.60,196.84 L74.10,196.84 L74.60,196.83 L75.10,196.82 L75.60,196.81 L76.10,196.80 L76.60,196.79 L77.10,196.78 L77.60,196.77 L78.10,196.76 L78.60,196.75 L79.10,196.74 L79.60,196.72 L80.10,196.71 L80.60,196.70 L81.10,196.69 L81.60,196.68 L82.10,196.67 L82.60,196.65 L83.10,196.64 L83.60,196.63 L84.10,196.61 L84.60,196.60 L85.10,196.59 L85.60,196.57 L86.10,196.56 L86.60,196.54 L87.10,196.53 L87.60,196.51 L88.10,196.50 L88.60,196.48 L89.10,196.46 L89.60,196.45 L90.10,196.43 L90.60,196.41 L91.10,196.39 L91.60,196.37 L92.10,196.36 L92.60,196.34 L93.10,196.32 L93.60,196.30 L94.10,196.28 L94.60,196.25 L95.10,196.23 L95.60,196.21 L96.10,196.19 L96.60,196.16 L97.10,196.14 L97.60,196.11 L98.10,196.09 L98.60,196.06 L99.10,196.04 L99.60,196.01 L100.10,195.98 L100.60,195.95 L101.10,195.92 L101.60,195.89 L102.10,195.86 L102.60,195.83 L103.10,195.79 L103.60,195.76 L104.10,195.72 L104.60,195.69 L105.10,195.65 L105.60,195.61 L106.10,195.57 L106.60,195.53 L107.10,195.49 L107.60,195.45 L108.10,195.40 L108.60,195.36 L109.10,195.31 L109.60,195.26 L110.10,195.21 L110.60,195.16 L111.10,195.11 L111.60,195.05 L112.10,195.00 L112.60,194.94 L113.10,194.88 L113.60,194.81 L114.10,194.75 L114.60,194.68 L115.10,194.61 L115.60,194.54 L116.10,194.47 L116.60,194.39 L117.10,194.31 L117.60,194.23 L118.10,194.14 L118.60,194.06 L119.10,193.96 L119.60,193.87 L120.10,193.77 L120.60,193.67 L121.10,193.56 L121.60,193.45 L122.10,193.34 L122.60,193.22 L123.10,193.10 L123.60,192.97 L124.10,192.84 L124.60,192.70 L125.10,192.56 L125.60,192.41 L126.10,192.25 L126.60,192.09 L127.10,191.92 L127.60,191.75 L128.10,191.56 L128.60,191.37 L129.10,191.18 L129.60,190.97 L130.10,190.75 L130.60,190.53 L131.10,190.30 L131.60,190.06 L132.10,189.80 L132.60,189.54 L133.10,189.27 L133.60,188.98 L134.10,188.69 L134.60,188.38 L135.10,188.06 L135.60,187.73 L136.10,187.38 L136.60,187.02 L137.10,186.65 L137.60,186.27 L138.10,185.88 L138.60,185.47 L139.10,185.05 L139.60,184.62 L140.10,184.18 L140.60,183.73 L141.10,183.27 L141.60,182.81 L142.10,182.34 L142.60,181.86 L143.10,181.39 L143.60,180.92 L144.10,180.45 L144.60,179.98 L145.10,179.53 L145.60,179.10 L146.10,178.68 L146.60,178.28 L147.10,177.91 L147.60,177.57 L148.10,177.27 L148.60,177.00 L149.10,176.78 L149.60,176.60 L150.10,176.46 L150.60,176.38 L151.10,176.34 L151.60,176.36 L152.10,176.42 L152.60,176.54 L153.10,176.70 L153.60,176.91 L154.10,177.16 L154.60,177.45 L155.10,177.77 L155.60,178.13 L156.10,178.52 L156.60,178.93 L157.10,179.36 L157.60,179.80 L158.10,180.26 L158.60,180.73 L159.10,181.20 L159.60,181.67 L160.10,182.15 L160.60,182.62 L161.10,183.09 L161.60,183.55 L162.10,184.00 L162.60,184.45 L163.10,184.88 L163.60,185.31 L164.10,185.72 L164.60,186.12 L165.10,186.50 L165.60,186.88 L166.10,187.24 L166.60,187.59 L167.10,187.93 L167.60,188.25 L168.10,188.56 L168.60,188.86 L169.10,189.15 L169.60,189.43 L170.10,189.70 L170.60,189.96 L171.10,190.20 L171.60,190.44 L172.10,190.67 L172.60,190.88 L173.10,191.09 L173.60,191.30 L174.10,191.49 L174.60,191.67 L175.10,191.85 L175.60,192.02 L176.10,192.19 L176.60,192.35 L177.10,192.50 L177.60,192.64 L178.10,192.78 L178.60,192.92 L179.10,193.05 L179.60,193.17 L180.10,193.29 L180.60,193.41 L181.10,193.52 L181.60,193.63 L182.10,193.73 L182.60,193.83 L183.10,193.93 L183.60,194.02 L184.10,194.11 L184.60,194.20 L185.10,194.28 L185.60,194.36 L186.10,194.44 L186.60,194.51 L187.10,194.58 L187.60,194.65 L188.10,194.72 L188.60,194.79 L189.10,194.85 L189.60,194.91 L190.10,194.97 L190.60,195.03 L191.10,195.09 L191.60,195.14 L192.10,195.19 L192.60,195.24 L193.10,195.29 L193.60,195.34 L194.10,195.38 L194.60,195.43 L195.10,195.47 L195.60,195.52 L196.10,195.56 L196.60,195.60 L197.10,195.64 L197.60,195.67 L198.10,195.71 L198.60,195.74 L199.10,195.78 L199.60,195.81 L200.10,195.85 L200.60,195.88 L201.10,195.91 L201.60,195.94 L202.10,195.97 L202.60,196.00 L203.10,196.02 L203.60,196.05 L204.10,196.08 L204.60,196.10 L205.10,196.13 L205.60,196.15 L206.10,196.18 L206.60,196.20 L207.10,196.22 L207.60,196.24 L208.10,196.27 L208.60,196.29 L209.10,196.31 L209.60,196.33 L210.10,196.35 L210.60,196.37 L211.10,196.39 L211.60,196.40 L212.10,196.42 L212.60,196.44 L213.10,196.46 L213.60,196.47 L214.10,196.49 L214.60,196.51 L215.10,196.52 L215.60,196.54 L216.10,196.55 L216.60,196.57 L217.10,196.58 L217.60,196.59 L218.10,196.61 L218.60,196.62 L219.10,196.64 L219.60,196.65 L220.10,196.66 L220.60,196.67 L221.10,196.69 L221.60,196.70 L222.10,196.71 L222.60,196.72 L223.10,196.73 L223.60,196.74 L224.10,196.75 L224.60,196.76 L225.10,196.77 L225.60,196.78 L226.10,196.79 L226.60,196.80 L227.10,196.81 L227.60,196.82 L228.10,196.83 L228.60,196.84 L229.10,196.85 L229.60,196.86 L230.10,196.87 L230.60,196.88 L231.10,196.88 L231.60,196.89 L232.10,196.90 L232.60,196.91 L233.10,196.92 L233.60,196.92 L234.10,196.93 L234.60,196.94 L235.10,196.95 L235.60,196.95 L236.10,196.96 L236.60,196.97 L237.10,196.97 L237.60,196.98 L238.10,196.99 L238.60,196.99 L239.10,197.00 L239.60,197.00 L240.10,197.01 L240.60,197.02 L241.10,197.02 L241.60,197.03 L242.10,197.03 L242.60,197.04 L243.10,197.05 L243.60,197.05 L244.10,197.06 L244.60,197.06 L245.10,197.07 L245.60,197.07 L246.10,197.08 L246.60,197.08 L247.10,197.09 L247.60,197.09 L248.10,197.10 L248.60,197.10 L249.10,197.10 L249.60,197.11 L250.10,197.11 L250.60,197.12 L251.10,197.12 L251.60,197.13 L252.10,197.13 L252.60,197.14 L253.10,197.14 L253.60,197.14 L254.10,197.15 L254.60,197.15 L255.10,197.16 L255.60,197.16 L256.10,197.16 L256.60,197.17 L257.10,197.17 L257.60,197.17 L258.10,197.18 L258.60,197.18 L259.10,197.18 L259.60,197.19 L260.10,197.19 L260.60,197.19 L261.10,197.20 L261.60,197.20 L262.10,197.20 L262.60,197.21 L263.10,197.21 L263.60,197.21 L264.10,197.22 L264.60,197.22 L265.10,197.22 L265.60,197.22 L266.10,197.23 L266.60,197.23 L267.10,197.23 L267.60,197.24 L268.10,197.24 L268.60,197.24 L269.10,197.24 L269.60,197.25 L270.10,197.25 L270.60,197.25 L271.10,197.25 L271.60,197.26 L272.10,197.26 L272.60,197.26 L273.10,197.26 L273.60,197.27 L274.10,197.27 L274.60,197.27 L275.10,197.27 L275.60,197.28 L276.10,197.28 L276.60,197.28 L277.10,197.28 L277.60,197.28 L278.10,197.29 L278.60,197.29 L279.10,197.29 L279.60,197.29 L280.10,197.30 L280.60,197.30 L281.10,197.30 L281.60,197.30 L282.10,197.30 L282.60,197.31 L283.10,197.31 L283.60,197.31 L284.10,197.31 L284.60,197.31 L285.10,197.31 L285.60,197.32 L286.10,197.32 L286.60,197.32 L287.10,197.32 L287.60,197.32 L288.10,197.33 L288.60,197.33 L289.10,197.33 L289.60,197.33 L290.10,197.33" fill="none" stroke="#0000ff" stroke-width="1.6" stroke-dasharray="3.4 3.2"/>
<path d="M49.10,195.46 L49.60,195.45 L50.10,195.44 L50.60,195.43 L51.10,195.41 L51.60,195.40 L52.10,195.39 L52.60,195.37 L53.10,195.36 L53.60,195.35 L54.10,195.33 L54.60,195.32 L55.10,195.30 L55.60,195.29 L56.10,195.28 L56.60,195.26 L57.10,195.25 L57.60,195.23 L58.10,195.22 L58.60,195.20 L59.10,195.18 L59.60,195.17 L60.10,195.15 L60.60,195.14 L61.10,195.12 L61.60,195.10 L62.10,195.08 L62.60,195.07 L63.10,195.05 L63.60,195.03 L64.10,195.01 L64.60,194.99 L65.10,194.97 L65.60,194.95 L66.10,194.93 L66.60,194.91 L67.10,194.88 L67.60,194.86 L68.10,194.84 L68.60,194.82 L69.10,194.79 L69.60,194.77 L70.10,194.74 L70.60,194.72 L71.10,194.69 L71.60,194.67 L72.10,194.64 L72.60,194.62 L73.10,194.59 L73.60,194.56 L74.10,194.53 L74.60,194.51 L75.10,194.48 L75.60,194.45 L76.10,194.42 L76.60,194.39 L77.10,194.36 L77.60,194.33 L78.10,194.30 L78.60,194.27 L79.10,194.24 L79.60,194.21 L80.10,194.17 L80.60,194.14 L81.10,194.11 L81.60,194.07 L82.10,194.04 L82.60,194.00 L83.10,193.96 L83.60,193.93 L84.10,193.89 L84.60,193.85 L85.10,193.81 L85.60,193.77 L86.10,193.72 L86.60,193.68 L87.10,193.64 L87.60,193.59 L88.10,193.55 L88.60,193.50 L89.10,193.45 L89.60,193.41 L90.10,193.36 L90.60,193.31 L91.10,193.26 L91.60,193.20 L92.10,193.15 L92.60,193.10 L93.10,193.04 L93.60,192.99 L94.10,192.93 L94.60,192.87 L95.10,192.81 L95.60,192.75 L96.10,192.69 L96.60,192.63 L97.10,192.56 L97.60,192.49 L98.10,192.42 L98.60,192.35 L99.10,192.27 L99.60,192.19 L100.10,192.11 L100.60,192.03 L101.10,191.95 L101.60,191.87 L102.10,191.78 L102.60,191.69 L103.10,191.60 L103.60,191.51 L104.10,191.41 L104.60,191.31 L105.10,191.22 L105.60,191.11 L106.10,191.01 L106.60,190.91 L107.10,190.80 L107.60,190.69 L108.10,190.58 L108.60,190.47 L109.10,190.35 L109.60,190.24 L110.10,190.12 L110.60,190.00 L111.10,189.87 L111.60,189.74 L112.10,189.61 L112.60,189.47 L113.10,189.33 L113.60,189.18 L114.10,189.03 L114.60,188.88 L115.10,188.72 L115.60,188.56 L116.10,188.39 L116.60,188.22 L117.10,188.04 L117.60,187.86 L118.10,187.68 L118.60,187.49 L119.10,187.30 L119.60,187.10 L120.10,186.90 L120.60,186.69 L121.10,186.47 L121.60,186.24 L122.10,186.01 L122.60,185.77 L123.10,185.52 L123.60,185.26 L124.10,184.99 L124.60,184.72 L125.10,184.44 L125.60,184.15 L126.10,183.85 L126.60,183.54 L127.10,183.22 L127.60,182.90 L128.10,182.57 L128.60,182.22 L129.10,181.85 L129.60,181.48 L130.10,181.08 L130.60,180.67 L131.10,180.25 L131.60,179.81 L132.10,179.36 L132.60,178.90 L133.10,178.42 L133.60,177.93 L134.10,177.42 L134.60,176.90 L135.10,176.37 L135.60,175.81 L136.10,175.20 L136.60,174.56 L137.10,173.90 L137.60,173.22 L138.10,172.53 L138.60,171.84 L139.10,171.16 L139.60,170.50 L140.10,169.85 L140.60,169.21 L141.10,168.57 L141.60,167.92 L142.10,167.26 L142.60,166.61 L143.10,165.96 L143.60,165.31 L144.10,164.67 L144.60,164.04 L145.10,163.42 L145.60,162.79 L146.10,162.14 L146.60,161.49 L147.10,160.84 L147.60,160.19 L148.10,159.55 L148.60,158.93 L149.10,158.33 L149.60,157.73 L150.10,157.11 L150.60,156.48 L151.10,155.82 L151.60,155.15 L152.10,154.46 L152.60,153.75 L153.10,153.02 L153.60,152.31 L154.10,151.63 L154.60,150.97 L155.10,150.31 L155.60,149.63 L156.10,148.93 L156.60,148.24 L157.10,147.59 L157.60,146.95 L158.10,146.32 L158.60,145.75 L159.10,145.23 L159.60,144.73 L160.10,144.21 L160.60,143.61 L161.10,142.91 L161.60,142.16 L162.10,141.38 L162.60,140.52 L163.10,139.54 L163.60,138.38 L164.10,137.01 L164.60,135.48 L165.10,133.85 L165.60,132.10 L166.10,130.23 L166.60,128.23 L167.10,126.09 L167.60,123.82 L168.10,121.40 L168.60,118.85 L169.10,116.17 L169.60,113.37 L170.10,110.45 L170.60,107.40 L171.10,104.23 L171.60,100.94 L172.10,97.52 L172.60,93.99 L173.10,90.35 L173.60,86.61 L174.10,82.78 L174.60,78.87 L175.10,74.89 L175.60,70.86 L176.10,66.80 L176.60,62.72 L177.10,58.66 L177.60,54.64 L178.10,50.70 L178.60,46.87 L179.10,43.19 L179.60,39.70 L180.10,36.43 L180.60,33.44 L181.10,30.76 L181.60,28.42 L182.10,26.47 L182.60,24.93 L183.10,23.83 L183.60,23.19 L184.10,23.02 L184.60,23.32 L185.10,24.09 L185.60,25.32 L186.10,26.98 L186.60,29.06 L187.10,31.53 L187.60,34.34 L188.10,37.47 L188.60,40.87 L189.10,44.49 L189.60,48.31 L190.10,52.27 L190.60,56.35 L191.10,60.51 L191.60,64.70 L192.10,68.92 L192.60,73.12 L193.10,77.29 L193.60,81.41 L194.10,85.45 L194.60,89.42 L195.10,93.28 L195.60,97.05 L196.10,100.70 L196.60,104.24 L197.10,107.66 L197.60,110.96 L198.10,114.14 L198.60,117.20 L199.10,120.14 L199.60,122.95 L200.10,125.66 L200.60,128.25 L201.10,130.74 L201.60,133.12 L202.10,135.41 L202.60,137.60 L203.10,139.70 L203.60,141.71 L204.10,143.63 L204.60,145.47 L205.10,147.24 L205.60,148.93 L206.10,150.55 L206.60,152.10 L207.10,153.58 L207.60,155.00 L208.10,156.37 L208.60,157.67 L209.10,158.93 L209.60,160.13 L210.10,161.28 L210.60,162.38 L211.10,163.44 L211.60,164.45 L212.10,165.43 L212.60,166.36 L213.10,167.25 L213.60,168.11 L214.10,168.94 L214.60,169.73 L215.10,170.49 L215.60,171.22 L216.10,171.92 L216.60,172.59 L217.10,173.24 L217.60,173.87 L218.10,174.47 L218.60,175.05 L219.10,175.61 L219.60,176.15 L220.10,176.67 L220.60,177.17 L221.10,177.65 L221.60,178.12 L222.10,178.57 L222.60,179.01 L223.10,179.43 L223.60,179.83 L224.10,180.22 L224.60,180.60 L225.10,180.97 L225.60,181.33 L226.10,181.67 L226.60,182.00 L227.10,182.32 L227.60,182.63 L228.10,182.94 L228.60,183.23 L229.10,183.51 L229.60,183.79 L230.10,184.06 L230.60,184.31 L231.10,184.57 L231.60,184.81 L232.10,185.05 L232.60,185.28 L233.10,185.50 L233.60,185.72 L234.10,185.93 L234.60,186.14 L235.10,186.34 L235.60,186.54 L236.10,186.73 L236.60,186.92 L237.10,187.10 L237.60,187.28 L238.10,187.45 L238.60,187.62 L239.10,187.79 L239.60,187.95 L240.10,188.11 L240.60,188.27 L241.10,188.42 L241.60,188.56 L242.10,188.71 L242.60,188.85 L243.10,188.99 L243.60,189.12 L244.10,189.25 L244.60,189.38 L245.10,189.50 L245.60,189.63 L246.10,189.75 L246.60,189.86 L247.10,189.98 L247.60,190.09 L248.10,190.20 L248.60,190.30 L249.10,190.41 L249.60,190.51 L250.10,190.61 L250.60,190.71 L251.10,190.80 L251.60,190.90 L252.10,190.99 L252.60,191.08 L253.10,191.16 L253.60,191.25 L254.10,191.33 L254.60,191.42 L255.10,191.50 L255.60,191.58 L256.10,191.65 L256.60,191.73 L257.10,191.80 L257.60,191.88 L258.10,191.95 L258.60,192.02 L259.10,192.09 L259.60,192.15 L260.10,192.22 L260.60,192.28 L261.10,192.35 L261.60,192.41 L262.10,192.47 L262.60,192.53 L263.10,192.59 L263.60,192.65 L264.10,192.71 L264.60,192.76 L265.10,192.82 L265.60,192.87 L266.10,192.92 L266.60,192.97 L267.10,193.03 L267.60,193.08 L268.10,193.13 L268.60,193.17 L269.10,193.22 L269.60,193.27 L270.10,193.31 L270.60,193.36 L271.10,193.40 L271.60,193.45 L272.10,193.49 L272.60,193.53 L273.10,193.57 L273.60,193.61 L274.10,193.66 L274.60,193.69 L275.10,193.73 L275.60,193.77 L276.10,193.81 L276.60,193.85 L277.10,193.88 L277.60,193.92 L278.10,193.95 L278.60,193.99 L279.10,194.02 L279.60,194.06 L280.10,194.09 L280.60,194.12 L281.10,194.16 L281.60,194.19 L282.10,194.22 L282.60,194.25 L283.10,194.28 L283.60,194.31 L284.10,194.34 L284.60,194.37 L285.10,194.40 L285.60,194.42 L286.10,194.45 L286.60,194.48 L287.10,194.51 L287.60,194.53 L288.10,194.56 L288.60,194.59 L289.10,194.61 L289.60,194.64 L290.10,194.66" fill="none" stroke="#00e000" stroke-width="1.5"/>
</g>
<line x1="152.1" y1="110.5" x2="161.5" y2="110.5" stroke="#333" stroke-width="0.9"/>
<path d="M166.3,110.5 L160.6,108.8 L161.2,110.5 L160.6,112.2 Z" fill="#111"/>
<line x1="216.9" y1="110.6" x2="207.5" y2="110.6" stroke="#333" stroke-width="0.9"/>
<path d="M202.5,110.6 L208.2,108.9 L207.6,110.6 L208.2,112.3 Z" fill="#111"/>
<rect x="52.5" y="7.3" width="96.4" height="49.6" fill="#fff" stroke="#8c8c8c" stroke-width="1"/>
<circle cx="65" cy="14.3" r="2.4" fill="#111"/><circle cx="64.3" cy="13.6" r="0.8" fill="#ccc"/>
<line x1="53.5" y1="26.2" x2="76.8" y2="26.2" stroke="#ff0000" stroke-width="1.6" stroke-dasharray="3.4 3.2"/>
<line x1="53.5" y1="38.6" x2="76.8" y2="38.6" stroke="#0000ff" stroke-width="1.6" stroke-dasharray="3.4 3.2"/>
<line x1="53.5" y1="50.3" x2="76.8" y2="50.3" stroke="#00e000" stroke-width="1.4"/>
<text x="78.7" y="17.5" font-family="'Liberation Serif', serif" font-weight="bold" stroke="#000" stroke-width="0.22" font-size="9.6">Experiment data</text>
<text x="78.7" y="29.2" font-family="'Liberation Serif', serif" font-weight="bold" stroke="#000" stroke-width="0.22" font-size="9.6">Allowed line</text>
<text x="78.7" y="41.4" font-family="'Liberation Serif', serif" font-weight="bold" stroke="#000" stroke-width="0.22" font-size="9.6">Forbidden line</text>
<text x="78.7" y="53.5" font-family="'Liberation Serif', serif" font-weight="bold" stroke="#000" stroke-width="0.22" font-size="9.6">Total fitting</text>
<text x="55.2" y="71.4" font-family="'Liberation Serif', serif" font-weight="bold" stroke="#000" stroke-width="0.22" font-size="9.6" textLength="106.8" lengthAdjust="spacingAndGlyphs">FWHM=0.174 ± 0.011 nm</text>
<text x="57" y="84" font-family="'Liberation Serif', serif" font-weight="bold" stroke="#000" stroke-width="0.22" font-size="9.6"><tspan font-style="italic">n</tspan><tspan font-style="italic" font-size="6.3" dy="3">e</tspan><tspan dy="-3">=(2.4 ± 0.3)×10</tspan><tspan font-size="6.2" dy="-4.6">21</tspan><tspan dy="4.6"> m</tspan><tspan font-size="6.2" dy="-4.4">-3</tspan></text>
<text x="331.9" y="11.0" font-family="'Liberation Serif', serif" font-weight="bold" stroke="#000" stroke-width="0.22" font-size="15.2" textLength="18.6" lengthAdjust="spacingAndGlyphs">(b)</text>
<rect x="382.4" y="3.35" width="254.0" height="205.75" fill="none" stroke="#3a3a3a" stroke-width="1.3"/>
<line x1="378.4" y1="13.41" x2="382.4" y2="13.41" stroke="#3a3a3a" stroke-width="1.1"/>
<text x="375.5" y="16.61" font-family="'Liberation Serif', serif" font-weight="bold" stroke="#000" stroke-width="0.22" font-size="9.5" text-anchor="end">4.0</text>
<line x1="378.4" y1="62.94" x2="382.4" y2="62.94" stroke="#3a3a3a" stroke-width="1.1"/>
<text x="375.5" y="66.14" font-family="'Liberation Serif', serif" font-weight="bold" stroke="#000" stroke-width="0.22" font-size="9.5" text-anchor="end">3.0</text>
<line x1="378.4" y1="112.47" x2="382.4" y2="112.47" stroke="#3a3a3a" stroke-width="1.1"/>
<text x="375.5" y="115.67" font-family="'Liberation Serif', serif" font-weight="bold" stroke="#000" stroke-width="0.22" font-size="9.5" text-anchor="end">2.0</text>
<line x1="378.4" y1="162.00" x2="382.4" y2="162.00" stroke="#3a3a3a" stroke-width="1.1"/>
<text x="375.5" y="165.20" font-family="'Liberation Serif', serif" font-weight="bold" stroke="#000" stroke-width="0.22" font-size="9.5" text-anchor="end">1.0</text>
<line x1="378.4" y1="209.10" x2="382.4" y2="209.10" stroke="#3a3a3a" stroke-width="1.1"/>
<text x="375.5" y="212.30" font-family="'Liberation Serif', serif" font-weight="bold" stroke="#000" stroke-width="0.22" font-size="9.5" text-anchor="end">0.1</text>
<line x1="380.09999999999997" y1="38.17" x2="382.4" y2="38.17" stroke="#3a3a3a" stroke-width="1.1"/>
<line x1="380.09999999999997" y1="87.70" x2="382.4" y2="87.70" stroke="#3a3a3a" stroke-width="1.1"/>
<line x1="380.09999999999997" y1="137.24" x2="382.4" y2="137.24" stroke="#3a3a3a" stroke-width="1.1"/>
<line x1="380.09999999999997" y1="185.55" x2="382.4" y2="185.55" stroke="#3a3a3a" stroke-width="1.1"/>
<line x1="406.59" y1="209.1" x2="406.59" y2="213.1" stroke="#3a3a3a" stroke-width="1.1"/>
<text x="406.59" y="223" font-family="'Liberation Serif', serif" font-weight="bold" stroke="#000" stroke-width="0.22" font-size="9.5" text-anchor="middle">40</text>
<line x1="430.78" y1="209.1" x2="430.78" y2="211.4" stroke="#3a3a3a" stroke-width="1.1"/>
<line x1="454.97" y1="209.1" x2="454.97" y2="213.1" stroke="#3a3a3a" stroke-width="1.1"/>
<text x="454.97" y="223" font-family="'Liberation Serif', serif" font-weight="bold" stroke="#000" stroke-width="0.22" font-size="9.5" text-anchor="middle">60</text>
<line x1="479.16" y1="209.1" x2="479.16" y2="211.4" stroke="#3a3a3a" stroke-width="1.1"/>
<line x1="503.35" y1="209.1" x2="503.35" y2="213.1" stroke="#3a3a3a" stroke-width="1.1"/>
<text x="503.35" y="223" font-family="'Liberation Serif', serif" font-weight="bold" stroke="#000" stroke-width="0.22" font-size="9.5" text-anchor="middle">80</text>
<line x1="527.54" y1="209.1" x2="527.54" y2="211.4" stroke="#3a3a3a" stroke-width="1.1"/>
<line x1="551.73" y1="209.1" x2="551.73" y2="213.1" stroke="#3a3a3a" stroke-width="1.1"/>
<text x="551.73" y="223" font-family="'Liberation Serif', serif" font-weight="bold" stroke="#000" stroke-width="0.22" font-size="9.5" text-anchor="middle">100</text>
<line x1="575.92" y1="209.1" x2="575.92" y2="211.4" stroke="#3a3a3a" stroke-width="1.1"/>
<line x1="600.11" y1="209.1" x2="600.11" y2="213.1" stroke="#3a3a3a" stroke-width="1.1"/>
<text x="600.11" y="223" font-family="'Liberation Serif', serif" font-weight="bold" stroke="#000" stroke-width="0.22" font-size="9.5" text-anchor="middle">120</text>
<line x1="624.30" y1="209.1" x2="624.30" y2="211.4" stroke="#3a3a3a" stroke-width="1.1"/>
<text x="488" y="240.5" font-family="'Liberation Serif', serif" font-weight="bold" stroke="#000" stroke-width="0.22" font-size="10.6" textLength="43.3" lengthAdjust="spacingAndGlyphs">Time (ns)</text>
<text transform="translate(351.6,160) rotate(-90)" font-family="'Liberation Serif', serif" font-weight="bold" stroke="#000" stroke-width="0.22" font-size="10.65">Electron density (×10<tspan font-size="6.8" dy="-3.6">21</tspan><tspan dy="3.6">m</tspan><tspan font-size="6.8" dy="-3.6">-3</tspan><tspan dy="3.6">)</tspan></text>
<g stroke="#111111" stroke-width="1" fill="none"><line x1="510.61" y1="161.1" x2="510.61" y2="188.2" /><line x1="508.51" y1="161.1" x2="512.71" y2="161.1" /><line x1="508.51" y1="188.2" x2="512.71" y2="188.2" /><line x1="522.70" y1="143.7" x2="522.70" y2="171.8" /><line x1="520.60" y1="143.7" x2="524.80" y2="143.7" /><line x1="520.60" y1="171.8" x2="524.80" y2="171.8" /><line x1="534.80" y1="146.6" x2="534.80" y2="173.8" /><line x1="532.70" y1="146.6" x2="536.90" y2="146.6" /><line x1="532.70" y1="173.8" x2="536.90" y2="173.8" /><line x1="546.89" y1="108.2" x2="546.89" y2="136.1" /><line x1="544.79" y1="108.2" x2="548.99" y2="108.2" /><line x1="544.79" y1="136.1" x2="548.99" y2="136.1" /><line x1="558.99" y1="79" x2="558.99" y2="107.5" /><line x1="556.89" y1="79" x2="561.09" y2="79" /><line x1="556.89" y1="107.5" x2="561.09" y2="107.5" /><line x1="571.08" y1="78" x2="571.08" y2="107.5" /><line x1="568.98" y1="78" x2="573.18" y2="78" /><line x1="568.98" y1="107.5" x2="573.18" y2="107.5" /><line x1="583.18" y1="68.2" x2="583.18" y2="97" /><line x1="581.08" y1="68.2" x2="585.28" y2="68.2" /><line x1="581.08" y1="97" x2="585.28" y2="97" /><line x1="595.27" y1="67.2" x2="595.27" y2="96" /><line x1="593.17" y1="67.2" x2="597.37" y2="67.2" /><line x1="593.17" y1="96" x2="597.37" y2="96" /></g>
<path d="M510.61,174.8 L522.70,158 L534.80,160.1 L546.89,121.6 L558.99,92.8 L571.08,92.1 L583.18,82.3 L595.27,81.3" stroke="#111111" stroke-width="1.2" fill="none"/>
<g fill="#111111"><circle cx="510.61" cy="174.8" r="2.6"/><circle cx="522.70" cy="158" r="2.6"/><circle cx="534.80" cy="160.1" r="2.6"/><circle cx="546.89" cy="121.6" r="2.6"/><circle cx="558.99" cy="92.8" r="2.6"/><circle cx="571.08" cy="92.1" r="2.6"/><circle cx="583.18" cy="82.3" r="2.6"/><circle cx="595.27" cy="81.3" r="2.6"/></g>
<g stroke="#ff0000" stroke-width="1" fill="none"><line x1="425.94" y1="159.5" x2="425.94" y2="185.3" /><line x1="423.84" y1="159.5" x2="428.04" y2="159.5" /><line x1="423.84" y1="185.3" x2="428.04" y2="185.3" /><line x1="438.04" y1="146.7" x2="438.04" y2="174.2" /><line x1="435.94" y1="146.7" x2="440.14" y2="146.7" /><line x1="435.94" y1="174.2" x2="440.14" y2="174.2" /><line x1="450.13" y1="112.3" x2="450.13" y2="140" /><line x1="448.03" y1="112.3" x2="452.23" y2="112.3" /><line x1="448.03" y1="140" x2="452.23" y2="140" /><line x1="462.23" y1="48.5" x2="462.23" y2="78.7" /><line x1="460.13" y1="48.5" x2="464.33" y2="48.5" /><line x1="460.13" y1="78.7" x2="464.33" y2="78.7" /><line x1="474.32" y1="55.7" x2="474.32" y2="86.6" /><line x1="472.22" y1="55.7" x2="476.42" y2="55.7" /><line x1="472.22" y1="86.6" x2="476.42" y2="86.6" /><line x1="486.42" y1="55.4" x2="486.42" y2="85.2" /><line x1="484.32" y1="55.4" x2="488.52" y2="55.4" /><line x1="484.32" y1="85.2" x2="488.52" y2="85.2" /><line x1="498.51" y1="37.4" x2="498.51" y2="67.7" /><line x1="496.41" y1="37.4" x2="500.61" y2="37.4" /><line x1="496.41" y1="67.7" x2="500.61" y2="67.7" /></g>
<path d="M425.94,172.3 L438.04,160 L450.13,126.2 L462.23,63.6 L474.32,71.1 L486.42,70.5 L498.51,52.4" stroke="#ff0000" stroke-width="1.2" fill="none"/>
<g fill="#ff0000"><circle cx="425.94" cy="172.3" r="2.6"/><circle cx="438.04" cy="160" r="2.6"/><circle cx="450.13" cy="126.2" r="2.6"/><circle cx="462.23" cy="63.6" r="2.6"/><circle cx="474.32" cy="71.1" r="2.6"/><circle cx="486.42" cy="70.5" r="2.6"/><circle cx="498.51" cy="52.4" r="2.6"/></g>
<g stroke="#0000ff" stroke-width="1" fill="none"><line x1="401.75" y1="155.8" x2="401.75" y2="181.6" /><line x1="399.65" y1="155.8" x2="403.85" y2="155.8" /><line x1="399.65" y1="181.6" x2="403.85" y2="181.6" /><line x1="413.85" y1="148.4" x2="413.85" y2="175.5" /><line x1="411.75" y1="148.4" x2="415.95" y2="148.4" /><line x1="411.75" y1="175.5" x2="415.95" y2="175.5" /><line x1="425.94" y1="84.6" x2="425.94" y2="113.6" /><line x1="423.84" y1="84.6" x2="428.04" y2="84.6" /><line x1="423.84" y1="113.6" x2="428.04" y2="113.6" /><line x1="450.13" y1="47.3" x2="450.13" y2="76.7" /><line x1="448.03" y1="47.3" x2="452.23" y2="47.3" /><line x1="448.03" y1="76.7" x2="452.23" y2="76.7" /><line x1="462.23" y1="23.6" x2="462.23" y2="55" /><line x1="460.13" y1="23.6" x2="464.33" y2="23.6" /><line x1="460.13" y1="55" x2="464.33" y2="55" /></g>
<path d="M401.75,168.6 L413.85,161.4 L425.94,98.8 L438.04,39.6 L450.13,62.1 L462.23,39.2" stroke="#0000ff" stroke-width="1.2" fill="none"/>
<g fill="#0000ff"><circle cx="401.75" cy="168.6" r="2.6"/><circle cx="413.85" cy="161.4" r="2.6"/><circle cx="425.94" cy="98.8" r="2.6"/><circle cx="438.04" cy="39.6" r="2.6"/><circle cx="450.13" cy="62.1" r="2.6"/><circle cx="462.23" cy="39.2" r="2.6"/></g>
<g stroke="#00ff00" stroke-width="1" fill="none"><line x1="389.66" y1="152.6" x2="389.66" y2="179.1" /><line x1="387.56" y1="152.6" x2="391.76" y2="152.6" /><line x1="387.56" y1="179.1" x2="391.76" y2="179.1" /><line x1="401.75" y1="140.3" x2="401.75" y2="166.4" /><line x1="399.65" y1="140.3" x2="403.85" y2="140.3" /><line x1="399.65" y1="166.4" x2="403.85" y2="166.4" /><line x1="413.85" y1="80.1" x2="413.85" y2="109.9" /><line x1="411.75" y1="80.1" x2="415.95" y2="80.1" /><line x1="411.75" y1="109.9" x2="415.95" y2="109.9" /><line x1="425.94" y1="22.6" x2="425.94" y2="53.5" /><line x1="423.84" y1="22.6" x2="428.04" y2="22.6" /><line x1="423.84" y1="53.5" x2="428.04" y2="53.5" /><line x1="438.04" y1="23.6" x2="438.04" y2="54.3" /><line x1="435.94" y1="23.6" x2="440.14" y2="23.6" /><line x1="435.94" y1="54.3" x2="440.14" y2="54.3" /><line x1="450.13" y1="28.9" x2="450.13" y2="60.5" /><line x1="448.03" y1="28.9" x2="452.23" y2="28.9" /><line x1="448.03" y1="60.5" x2="452.23" y2="60.5" /></g>
<path d="M389.66,165.6 L401.75,153.3 L413.85,94.9 L425.94,38.6 L438.04,39.2 L450.13,44.7" stroke="#00ff00" stroke-width="1.2" fill="none"/>
<g fill="#00ff00"><circle cx="389.66" cy="165.6" r="2.6"/><circle cx="401.75" cy="153.3" r="2.6"/><circle cx="413.85" cy="94.9" r="2.6"/><circle cx="425.94" cy="38.6" r="2.6"/><circle cx="438.04" cy="39.2" r="2.6"/><circle cx="450.13" cy="44.7" r="2.6"/></g>
<rect x="580.6" y="4.9" width="53" height="59.8" fill="#fff" stroke="#8c8c8c" stroke-width="1"/>
<line x1="581.3" y1="13.9" x2="605.8" y2="13.9" stroke="#111111" stroke-width="1.4"/>
<circle cx="593.5" cy="13.9" r="2.6" fill="#111111"/>
<text x="608.5" y="17.65" font-family="'Liberation Serif', serif" font-weight="bold" stroke="#000" stroke-width="0.22" font-size="11.5" textLength="21.8" lengthAdjust="spacingAndGlyphs">3 kV</text>
<line x1="581.3" y1="28.4" x2="605.8" y2="28.4" stroke="#ff0000" stroke-width="1.4"/>
<circle cx="593.5" cy="28.4" r="2.6" fill="#ff0000"/>
<text x="608.5" y="32.15" font-family="'Liberation Serif', serif" font-weight="bold" stroke="#000" stroke-width="0.22" font-size="11.5" textLength="21.8" lengthAdjust="spacingAndGlyphs">4 kV</text>
<line x1="581.3" y1="42.9" x2="605.8" y2="42.9" stroke="#0000ff" stroke-width="1.4"/>
<circle cx="593.5" cy="42.9" r="2.6" fill="#0000ff"/>
<text x="608.5" y="46.65" font-family="'Liberation Serif', serif" font-weight="bold" stroke="#000" stroke-width="0.22" font-size="11.5" textLength="21.8" lengthAdjust="spacingAndGlyphs">5 kV</text>
<line x1="581.3" y1="57.4" x2="605.8" y2="57.4" stroke="#00ff00" stroke-width="1.4"/>
<circle cx="593.5" cy="57.4" r="2.6" fill="#00ff00"/>
<text x="608.5" y="61.15" font-family="'Liberation Serif', serif" font-weight="bold" stroke="#000" stroke-width="0.22" font-size="11.5" textLength="21.8" lengthAdjust="spacingAndGlyphs">6 kV</text></svg>
</body></html>
